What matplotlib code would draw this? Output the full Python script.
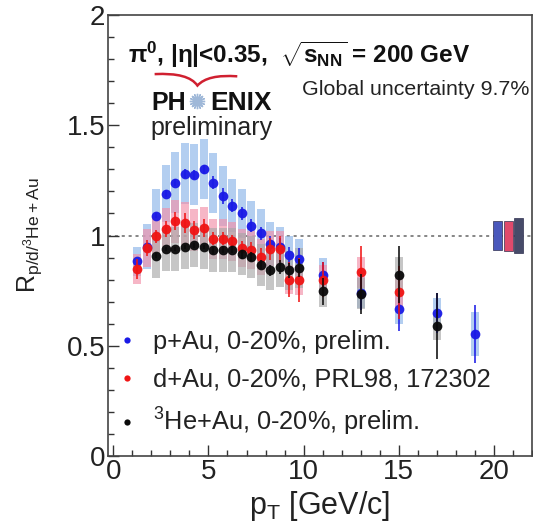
import numpy as np
import matplotlib
matplotlib.use('Agg')
import matplotlib.pyplot as plt
from matplotlib.lines import Line2D
from matplotlib.path import Path
from matplotlib.patches import PathPatch

plt.rcParams['font.family'] = ['Liberation Sans', 'DejaVu Sans']
plt.rcParams['mathtext.fontset'] = 'custom'
plt.rcParams['mathtext.rm'] = 'Liberation Sans'
plt.rcParams['mathtext.it'] = 'Liberation Sans:italic'
plt.rcParams['mathtext.bf'] = 'Liberation Sans:bold'

# p+Au, 0-20%, prelim.
pt_pau = [1.25, 1.75, 2.25, 2.75, 3.25, 3.75, 4.25, 4.75, 5.25, 5.75, 6.25, 6.75,
          7.25, 7.75, 8.25, 8.75, 9.25, 9.75, 11, 13, 15, 17, 19]
r_pau = [0.883, 0.95, 1.09, 1.19, 1.24, 1.28, 1.276, 1.30, 1.24, 1.18, 1.136, 1.10,
         1.045, 1.01, 0.963, 0.95, 0.91, 0.894, 0.82, 0.74, 0.668, 0.648, 0.553]
stat_pau = [0.01, 0.01, 0.01, 0.015, 0.015, 0.02, 0.02, 0.02, 0.03, 0.035, 0.03, 0.03,
            0.03, 0.03, 0.035, 0.04, 0.04, 0.05, 0.06, 0.08, 0.1, 0.09, 0.13]
sys_pau = [0.065, 0.1, 0.12, 0.13, 0.14, 0.138, 0.138, 0.136, 0.136, 0.135, 0.122, 0.11,
           0.11, 0.11, 0.1, 0.09, 0.09, 0.09, 0.08, 0.07, 0.07, 0.07, 0.1]

# d+Au, 0-20%, PRL98, 172302
pt_dau = [1.25, 1.75, 2.25, 2.75, 3.25, 3.75, 4.25, 4.75, 5.25, 5.75, 6.25, 6.75,
          7.25, 7.75, 8.25, 8.75, 9.25, 9.75, 11, 13, 15]
r_dau = [0.848, 0.944, 0.997, 1.03, 1.065, 1.055, 1.024, 1.033, 0.985, 0.985, 0.974, 0.944,
         0.935, 0.903, 0.94, 0.94, 0.80, 0.797, 0.80, 0.833, 0.742]
stat_dau = [0.045, 0.035, 0.03, 0.035, 0.04, 0.045, 0.04, 0.04, 0.03, 0.03, 0.03, 0.03,
            0.035, 0.04, 0.05, 0.06, 0.08, 0.1, 0.08, 0.12, 0.12]
sys_dau = [0.067, 0.085, 0.09, 0.095, 0.097, 0.097, 0.095, 0.095, 0.09, 0.09, 0.088, 0.085,
           0.085, 0.08, 0.08, 0.08, 0.065, 0.065, 0.065, 0.07, 0.07]

# 3He+Au, 0-20%, prelim.
pt_heau = [2.25, 2.75, 3.25, 3.75, 4.25, 4.75, 5.25, 5.75, 6.25, 6.75,
           7.25, 7.75, 8.25, 8.75, 9.25, 9.75, 11, 13, 15, 17]
r_heau = [0.909, 0.94, 0.94, 0.948, 0.955, 0.948, 0.933, 0.936, 0.936, 0.915,
          0.903, 0.868, 0.842, 0.857, 0.842, 0.853, 0.747, 0.736, 0.823, 0.588]
stat_heau = [0.01, 0.01, 0.01, 0.01, 0.01, 0.01, 0.015, 0.015, 0.015, 0.02,
             0.02, 0.02, 0.025, 0.03, 0.035, 0.04, 0.06, 0.09, 0.13, 0.15]
sys_heau = [0.1, 0.1, 0.1, 0.1, 0.1, 0.1, 0.1, 0.1, 0.1, 0.095,
            0.095, 0.095, 0.09, 0.09, 0.09, 0.09, 0.07, 0.07, 0.08, 0.06]

# global uncertainty boxes (p, d, He)
glob_x = [20.2, 20.75, 21.3]
glob_unc = [0.065, 0.068, 0.078]
glob_col = ['#4a58bc', '#e04a6c', '#474b69']

labels = ['p+Au, 0-20%, prelim.', 'd+Au, 0-20%, PRL98, 172302', r'$^{3}$He+Au, 0-20%, prelim.']
mk_col = ['#1a1ae6', '#f01414', '#0a0a0a']
box_col = ['#8ab4e8', '#f290a8', '#a8a8a8']

fig = plt.figure(figsize=(5.33, 5.25), dpi=100)
ax = fig.add_axes([0.2026, 0.1314, 0.7954, 0.84])

sets = [(pt_pau, r_pau, stat_pau, sys_pau),
        (pt_dau, r_dau, stat_dau, sys_dau),
        (pt_heau, r_heau, stat_heau, sys_heau)]

ax.axhline(1, ls=(0, (2, 2.5)), color='#666666', lw=1.1, zorder=1)

# systematic boxes
for i, (x, y, st, sy) in enumerate(sets):
    y = np.array(y); sy = np.array(sy)
    ax.bar(x, 2 * sy, bottom=y - sy, width=0.42, color=box_col[i], alpha=0.65,
           linewidth=0, zorder=2)

# stat errors + points
for i, (x, y, st, sy) in enumerate(sets):
    ax.errorbar(x, y, yerr=st, fmt='o', color=mk_col[i], ms=7, elinewidth=1.2,
                capsize=0, mew=0, zorder=3 + i, alpha=0.95)

ax.bar(glob_x, [2 * g for g in glob_unc], bottom=[1 - g for g in glob_unc], width=0.46,
       color=glob_col, edgecolor='#303050', linewidth=0.5, zorder=4)

ax.set_xlim(-0.28, 22)
ax.set_ylim(0, 2)
ax.set_xticks([0, 5, 10, 15, 20])
ax.set_xticks(np.arange(0, 23, 1), minor=True)
ax.set_yticks([0, 0.5, 1, 1.5, 2])
ax.set_yticklabels(['0', '0.5', '1', '1.5', '2'])
ax.set_yticks(np.arange(0, 2.01, 0.1), minor=True)
ax.tick_params(which='both', direction='in', top=False, right=False, colors='#333333',
               labelcolor='#222222', labelsize=20, pad=2)
ax.tick_params(which='major', length=8, width=1)
ax.tick_params(which='minor', length=4, width=1)
for s in ax.spines.values():
    s.set_color('#444444')
    s.set_linewidth(1.2)

ax.set_xlabel(r'p$_{\mathrm{T}}$ [GeV/c]', fontsize=22, color='#222222', labelpad=3)
ax.set_ylabel(r'R$_{\mathrm{p/d/^{3}He+Au}}$', fontsize=18, color='#222222', labelpad=16)

ax.text(0.047, 0.891, r'π$^{\mathbf{0}}$, |η|<0.35,  $\mathbf{\sqrt{s_{NN}}}$ = 200 GeV',
        transform=ax.transAxes, fontsize=17.5, fontweight='bold', color='#111111',
        va='baseline')
ax.text(0.993, 0.819, 'Global uncertainty 9.7%', transform=ax.transAxes, fontsize=15.4,
        color='#222222', ha='right', va='baseline')

# PHENIX preliminary logo
ax.text(0.1035, 0.785, 'PH', transform=ax.transAxes, fontsize=18, fontweight='bold',
        color='#111111', va='baseline')
ax.text(0.241, 0.785, 'ENIX', transform=ax.transAxes, fontsize=19, fontweight='bold',
        color='#111111', va='baseline')
ax.plot([0.211], [0.805], marker=(16, 2, 0), ms=11, color='#9fb8d8', mew=1.0,
        transform=ax.transAxes)
ax.text(0.099, 0.729, 'preliminary', transform=ax.transAxes, fontsize=18,
        color='#222222', va='baseline')
swoosh = Path([(0.11, 0.866), (0.19, 0.870), (0.211, 0.840), (0.235, 0.866), (0.305, 0.861)],
              [Path.MOVETO, Path.CURVE3, Path.CURVE3, Path.CURVE3, Path.CURVE3])
ax.add_patch(PathPatch(swoosh, fill=False, edgecolor='#d02030', lw=1.8,
                       transform=ax.transAxes))

handles = [Line2D([], [], marker='o', ls='', color=c, ms=4.5, mew=0) for c in mk_col]
ax.legend(handles, labels, loc='upper left', bbox_to_anchor=(0.026, 0.286), frameon=False,
          fontsize=18.3, handlelength=0.6, handletextpad=0.72, labelspacing=0.55,
          borderpad=0, borderaxespad=0, labelcolor='#222222')

fig.savefig('out.png', dpi=100)
